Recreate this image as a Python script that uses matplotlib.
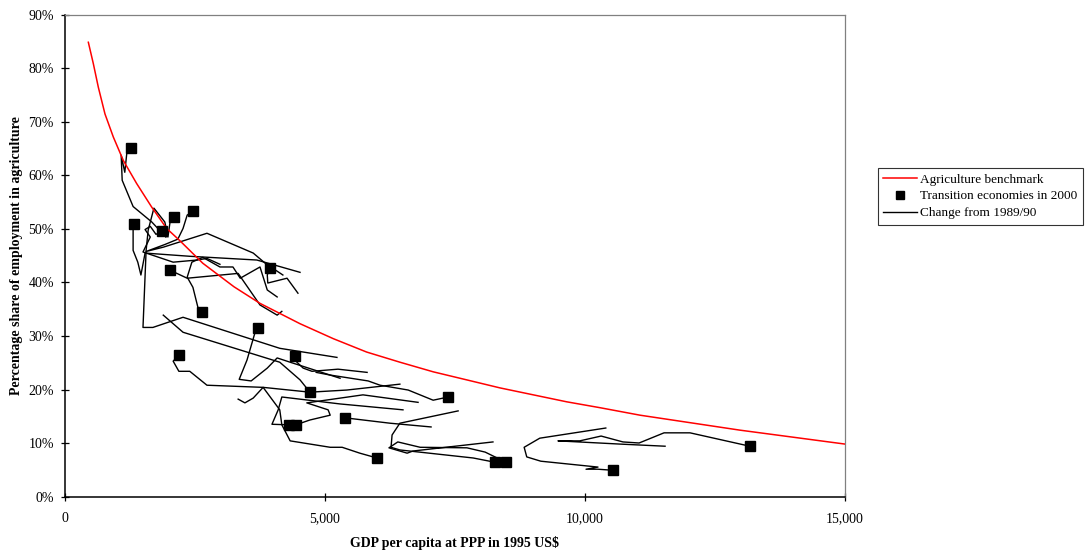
import matplotlib.pyplot as plt
from matplotlib.lines import Line2D
from matplotlib.ticker import FuncFormatter, PercentFormatter

plt.rcParams['font.family'] = ['Liberation Serif', 'DejaVu Serif']

# agriculture benchmark (GDP per capita, share %)
bench_gdp = [449, 545, 641, 769, 929, 1122, 1378, 1667, 1955, 2200, 2650, 3250,
             3750, 4519, 5160, 5801, 6442, 7083, 7725, 8365, 9006, 9648, 10288,
             11058, 12981, 15000]
bench_share = [84.9, 80.9, 76.5, 71.5, 67.2, 62.8, 58.5, 54.1, 50.1, 47.9, 43.6, 39.2,
               36.1, 32.3, 29.5, 27.0, 25.1, 23.3, 21.8, 20.3, 19.0, 17.7, 16.6,
               15.2, 12.4, 9.8]

# change from 1989/90 to 2000, one pair of lists per country (last point = 2000)
c01_gdp = [1940, 1670, 1310, 1100, 1080, 1150, 1190, 1270]
c01_share = [48.5, 51.3, 54.2, 59.1, 63.8, 60.6, 64.3, 65.1]
c02_gdp = [4520, 3690, 2400, 1540, 1460, 1400, 1310, 1310, 1330]
c02_share = [41.9, 44.2, 44.9, 45.5, 41.4, 43.8, 46.0, 49.9, 50.9]
c03_gdp = [2980, 2730, 2540, 2080, 1500, 1640, 1540, 1640, 1750, 1870]
c03_share = [43.4, 44.5, 44.2, 43.8, 45.7, 48.5, 49.9, 50.5, 49.0, 49.6]
c04_gdp = [5230, 4130, 2270, 1690, 1500, 1560, 1600, 1710, 1920, 1980, 2020, 2100]
c04_share = [26.0, 27.7, 33.5, 31.6, 31.6, 46.0, 49.8, 53.9, 51.3, 48.5, 51.3, 52.2]
c05_gdp = [4190, 3850, 3620, 2730, 1890, 1560, 1920, 2170, 2270, 2350, 2460]
c05_share = [41.4, 43.6, 45.5, 49.2, 46.6, 45.8, 47.1, 48.1, 50.1, 52.6, 53.3]
c06_gdp = [4170, 4080, 3750, 3330, 2350, 2020]
c06_share = [34.6, 33.9, 35.8, 41.7, 40.8, 42.3]
c07_gdp = [4080, 3890, 3750, 3370, 3230, 2980, 2650, 2440, 2350, 2460, 2560, 2640]
c07_share = [37.3, 38.6, 42.9, 40.8, 42.9, 42.9, 44.7, 43.8, 41.0, 39.1, 35.2, 34.4]
c08_gdp = [6440, 5420, 4710, 3810, 2730, 2400, 2190, 2080, 2190]
c08_share = [21.0, 19.9, 19.5, 20.4, 20.8, 23.4, 23.4, 25.3, 26.4]
c09_gdp = [4480, 4270, 3900, 3890, 3940]
c09_share = [38.0, 40.8, 39.9, 41.4, 42.7]
c10_gdp = [5290, 4330, 4080, 3890, 3580, 3350, 3500, 3650, 3710]
c10_share = [22.1, 25.1, 25.9, 24.0, 21.6, 21.9, 25.5, 30.5, 31.5]
c11_gdp = [5810, 5250, 4750, 4580, 4460, 4420]
c11_share = [23.2, 23.8, 23.4, 24.0, 25.1, 26.2]
c12_gdp = [1890, 2270, 4130, 4520, 4710]
c12_share = [33.9, 30.7, 25.1, 21.8, 19.5]
c13_gdp = [4830, 5100, 5830, 6060, 6600, 7080, 7370]
c13_share = [23.2, 22.7, 21.6, 20.8, 19.9, 18.0, 18.6]
c14_gdp = [7040, 6250, 5390]
c14_share = [13.0, 13.7, 14.7]
c15_gdp = [6500, 5290, 4170, 4100, 3980, 4310]
c15_share = [16.2, 17.3, 18.6, 16.2, 13.5, 13.4]
c16_gdp = [6790, 5730, 4650, 5060, 5100, 4710, 4440]
c16_share = [17.6, 19.0, 17.5, 16.2, 15.2, 14.3, 13.4]
c17_gdp = [3330, 3460, 3620, 3810, 4130, 4170, 4330, 5100, 5330, 5670, 6000]
c17_share = [18.2, 17.5, 18.4, 20.4, 16.2, 13.4, 10.4, 9.2, 9.2, 8.1, 7.2]
c18_gdp = [7560, 6440, 6290, 6270, 6440, 7850, 8270]
c18_share = [16.0, 13.7, 11.5, 9.2, 8.7, 7.2, 6.4]
c19_gdp = [8230, 6690, 6580, 6230, 6400, 6830, 7730, 8080, 8480]
c19_share = [10.2, 8.5, 8.1, 9.1, 10.2, 9.2, 9.1, 8.3, 6.4]
c20_gdp = [10400, 9130, 8830, 8880, 9150, 10250, 10020, 10250, 10540]
c20_share = [12.8, 10.9, 9.2, 7.4, 6.6, 5.5, 5.1, 5.1, 4.9]
c21_gdp = [11540, 10670, 9480, 9900, 10310, 10730, 11040, 11520, 12020, 13170]
c21_share = [9.4, 9.8, 10.4, 10.4, 11.3, 10.2, 10.0, 11.9, 11.9, 9.4]

paths = [(c01_gdp, c01_share), (c02_gdp, c02_share), (c03_gdp, c03_share),
         (c04_gdp, c04_share), (c05_gdp, c05_share), (c06_gdp, c06_share),
         (c07_gdp, c07_share), (c08_gdp, c08_share), (c09_gdp, c09_share),
         (c10_gdp, c10_share), (c11_gdp, c11_share), (c12_gdp, c12_share),
         (c13_gdp, c13_share), (c14_gdp, c14_share), (c15_gdp, c15_share),
         (c16_gdp, c16_share), (c17_gdp, c17_share), (c18_gdp, c18_share),
         (c19_gdp, c19_share), (c20_gdp, c20_share), (c21_gdp, c21_share)]

fig = plt.figure(figsize=(10.85, 5.51), dpi=100)
ax = fig.add_axes([0.0599, 0.0989, 0.7189, 0.8739])

for gdp, share in paths:
    ax.plot(gdp, share, color='black', lw=1.0, zorder=2)
ax.plot(bench_gdp, bench_share, color='#ff0000', lw=1.1, zorder=3)
ax.plot([g[-1] for g, s in paths], [s[-1] for g, s in paths], 's',
        color='black', ms=6.5, zorder=4)

ax.set_xlim(0, 15000)
ax.set_ylim(0, 90)
ax.set_xticks([0, 5000, 10000, 15000])
ax.set_yticks(range(0, 91, 10))
ax.xaxis.set_major_formatter(FuncFormatter(lambda v, p: f'{v:,.0f}'))
ax.yaxis.set_major_formatter(PercentFormatter(decimals=0))
ax.tick_params(axis='x', direction='inout', length=6, width=0.9, pad=8, labelsize=10)
ax.tick_params(axis='y', direction='inout', length=6, width=0.9, pad=5, labelsize=10)

for side in ['left', 'bottom']:
    ax.spines[side].set_linewidth(1.1)
for side in ['top', 'right']:
    ax.spines[side].set_color('#808080')
    ax.spines[side].set_linewidth(0.9)

ax.set_xlabel('GDP per capita at PPP in 1995 US$', fontweight='bold', fontsize=10, labelpad=8)
ax.set_ylabel('Percentage share of employment in agriculture', fontweight='bold',
              fontsize=10, labelpad=4)

handles = [Line2D([], [], color='#ff0000', lw=1.1),
           Line2D([], [], ls='none', marker='s', color='black', ms=6),
           Line2D([], [], color='black', lw=1.0)]
labels = ['Agriculture benchmark', 'Transition economies in 2000', 'Change from 1989/90']
leg = fig.legend(handles, labels, loc='upper left', bbox_to_anchor=(0.809, 0.695),
                 fontsize=9.5, frameon=True, fancybox=False, edgecolor='black',
                 handlelength=2.6, handletextpad=0.2, borderpad=0.4, labelspacing=0.35,
                 borderaxespad=0)
leg.get_frame().set_linewidth(0.8)

fig.savefig('out.png', dpi=100)
